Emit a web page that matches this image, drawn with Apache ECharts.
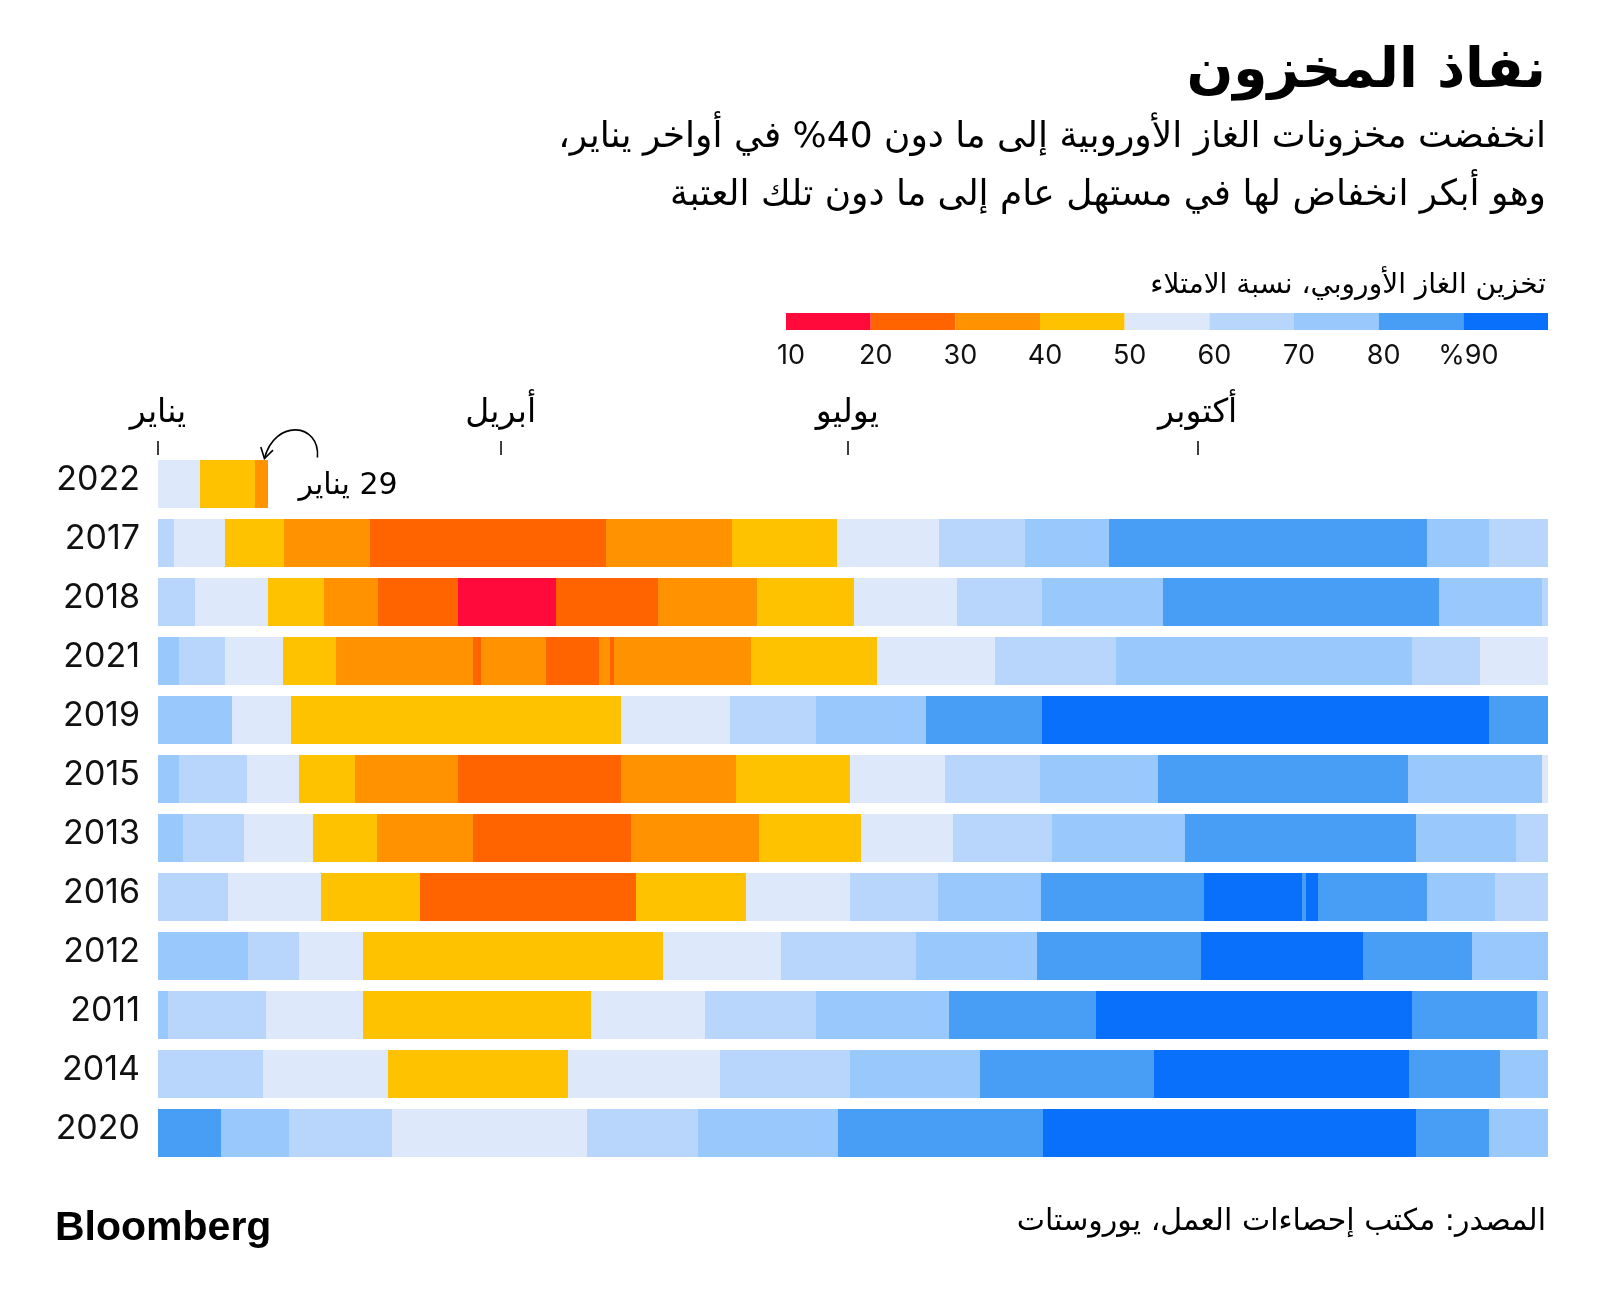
<!DOCTYPE html>
<html><head><meta charset="utf-8">
<script src="https://cdn.jsdelivr.net/npm/echarts@6/dist/echarts.min.js"></script>
<style>html,body{margin:0;padding:0;background:#fff}#c{width:1600px;height:1304px;direction:rtl}</style>
</head><body><div id="c" dir="rtl"></div><script>
// Rows (top to bottom)
const years = ['2022','2017','2018','2021','2019','2015','2013','2016','2012','2011','2014','2020'];
// Each year: [end day-of-year of segment, fill band lower bound %]
const y2022 = [[11,50],[25.5,40],[29,30]];
const y2017 = [[4.2,60],[17.5,50],[33,40],[55.8,30],[117.6,20],[150.7,30],[178.3,40],[205,50],[227.6,60],[249.7,70],[333.3,80],[349.6,70],[365,60]];
const y2018 = [[9.7,60],[28.8,50],[43.7,40],[57.7,30],[78.8,20],[104.6,10],[131.2,20],[157.4,30],[182.7,40],[209.7,50],[232.2,60],[263.8,70],[336.4,80],[363.4,70],[365,60]];
const y2021 = [[5.6,70],[17.6,60],[32.9,50],[46.8,40],[82.6,30],[84.7,20],[101.9,30],[115.9,20],[118.6,30],[119.8,20],[155.7,30],[188.7,40],[219.8,50],[251.5,60],[329.3,70],[347.2,60],[365,50]];
const y2019 = [[19.5,70],[34.8,50],[121.6,40],[150.2,50],[172.7,60],[201.7,70],[232.2,80],[349.6,90],[365,80]];
const y2015 = [[5.6,70],[23.3,60],[36.9,50],[51.7,40],[78.8,30],[121.6,20],[151.8,30],[181.7,40],[206.7,50],[231.7,60],[262.7,70],[328.2,80],[363.4,70],[365,50]];
const y2013 = [[6.6,70],[22.7,60],[40.7,50],[57.5,40],[82.7,30],[124.3,20],[157.7,30],[184.7,40],[208.8,50],[234.7,60],[269.7,70],[330.4,80],[356.5,70],[365,60]];
const y2016 = [[18.5,60],[42.9,50],[68.8,40],[125.5,20],[154.5,40],[181.7,50],[204.8,60],[231.8,70],[274.7,80],[300.4,90],[301.5,80],[304.5,90],[333.3,80],[351.1,70],[365,60]];
const y2012 = [[23.6,70],[36.9,60],[53.7,50],[132.6,40],[163.7,50],[199,60],[230.8,70],[273.8,80],[316.4,90],[345.1,80],[365,70]];
const y2011 = [[2.7,70],[28.4,60],[53.7,50],[113.6,40],[143.7,50],[172.7,60],[207.8,70],[246.4,80],[329.3,90],[362.2,80],[365,70]];
const y2014 = [[27.6,60],[60.5,50],[107.6,40],[147.6,50],[181.7,60],[215.8,70],[261.6,80],[328.5,90],[352.4,80],[365,70]];
const y2020 = [[16.6,80],[34.5,70],[61.5,60],[112.7,50],[141.9,60],[178.5,70],[232.4,80],[330.4,90],[349.5,80],[365,70]];
const rows = [y2022,y2017,y2018,y2021,y2019,y2015,y2013,y2016,y2012,y2011,y2014,y2020];

const bandLows = [10,20,30,40,50,60,70,80,90];
const bandColors = ['#ff0a3a','#ff6400','#ff9200','#ffc200','#dde9fb','#b8d6fc','#99c8fc','#489df5','#0870fb'];
const legendTicks = [10,20,30,40,50,60,70,80,90];
const legendTickLabels = ['10','20','30','40','50','60','70','80','%90'];
const monthDays = [0,90,181,273];
const monthNames = ['يناير','أبريل','يوليو','أكتوبر'];

const AR = 'DejaVu Sans';
const NUM = 'Inter';

function colorFor(v){ return bandColors[bandLows.indexOf(v)]; }

const segData = [];
rows.forEach((segs, r) => { let s = 0; segs.forEach(([e,b]) => { segData.push([s, e, r, b]); s = e; }); });
const legendData = bandLows.map(v => [v, v+10, 0, v]);

function renderSeg(params, api){
  const s = api.value(0), e = api.value(1), r = api.value(2);
  const p0 = api.coord([s, r]), p1 = api.coord([e, r]);
  const h = api.size([0,1])[1]*0.822;
  const x0 = Math.round(p0[0]), x1 = Math.round(p1[0]);
  return {type:'rect', shape:{x:x0, y:Math.round(p0[1]-h/2), width:x1-x0, height:Math.round(h)}, style:{fill: colorFor(api.value(3))}};
}
function renderLegend(params, api){
  const p0 = api.coord([api.value(0), 0]), p1 = api.coord([api.value(1), 0]);
  const h = api.size([0,1])[1];
  return {type:'rect', shape:{x:p0[0], y:p0[1]-h/2, width:p1[0]-p0[0], height:h}, style:{fill: colorFor(api.value(3))}};
}

const chart = echarts.init(document.getElementById('c'), null, {renderer:'canvas'});
chart.setOption({
  animation:false,
  backgroundColor:'#fff',
  title:[
    {text:'نفاذ المخزون', right:54, top:45, padding:0, textStyle:{fontFamily:AR, fontSize:55, fontWeight:'bold', color:'#000'}},
    {text:'انخفضت مخزونات الغاز الأوروبية إلى ما دون 40% في أواخر يناير،', right:54, top:120, padding:0, textStyle:{fontFamily:AR, fontSize:36, fontWeight:'normal', color:'#000'}},
    {text:'وهو أبكر انخفاض لها في مستهل عام إلى ما دون تلك العتبة', right:54, top:178, padding:0, textStyle:{fontFamily:AR, fontSize:36, fontWeight:'normal', color:'#000'}},
    {text:'تخزين الغاز الأوروبي، نسبة الامتلاء', right:54, top:272, padding:0, textStyle:{fontFamily:AR, fontSize:28, fontWeight:'normal', color:'#000'}},
    {text:'Bloomberg', left:50, top:1203, textStyle:{fontFamily:'Liberation Sans', fontSize:41, fontWeight:'bold', color:'#000'}},
    {text:'المصدر: مكتب إحصاءات العمل، يوروستات', right:54, top:1207, padding:0, textStyle:{fontFamily:AR, fontSize:30, fontWeight:'normal', color:'#000'}}
  ],
  grid:[
    {left:158, right:52, top:455, height:708},
    {left:786, right:52, top:313, height:17}
  ],
  xAxis:[
    {gridIndex:0, type:'value', min:0, max:365, position:'top',
     axisLine:{show:false}, splitLine:{show:false},
     axisTick:{show:true, customValues:monthDays, length:14, lineStyle:{color:'#000', width:1.5}},
     axisLabel:{customValues:monthDays, formatter:v => monthNames[monthDays.indexOf(v)], fontFamily:AR, fontSize:33, color:'#000', margin:25}},
    {gridIndex:1, type:'value', min:10, max:100, interval:10, position:'bottom',
     axisLine:{show:false}, axisTick:{show:false}, splitLine:{show:false},
     axisLabel:{formatter:v => { const i = legendTicks.indexOf(v); return i < 0 ? '' : legendTickLabels[i]; }, fontFamily:NUM, fontSize:27, color:'#111', margin:12, padding:[0,0,0,10]}}
  ],
  yAxis:[
    {gridIndex:0, type:'category', data:years, inverse:true,
     axisLine:{show:false}, axisTick:{show:false}, splitLine:{show:false},
     axisLabel:{fontFamily:NUM, fontSize:34, color:'#111', margin:18, verticalAlign:'bottom', lineHeight:10}},
    {gridIndex:1, type:'category', data:['l'], show:false}
  ],
  series:[
    {type:'custom', xAxisIndex:0, yAxisIndex:0, renderItem:renderSeg, data:segData, encode:{x:[0,1], y:2}, silent:true},
    {type:'custom', xAxisIndex:1, yAxisIndex:1, renderItem:renderLegend, data:legendData, encode:{x:[0,1], y:2}, silent:true}
  ]
});

// Annotation anchored to end of the 2022 bar (29 Jan)
const p = chart.convertToPixel({xAxisIndex:0, yAxisIndex:0}, [29, 0]);
const S = [p[0]+49, p[1]-27], C1 = [p[0]+52, p[1]-62], C2 = [p[0]+6, p[1]-66], E = [p[0]-4, p[1]-26];
const dx = E[0]-C2[0], dy = E[1]-C2[1], L = Math.hypot(dx,dy), ux = dx/L, uy = dy/L;
function wing(a){ const c=Math.cos(a), s=Math.sin(a); return [E[0]-12*(ux*c - uy*s), E[1]-12*(ux*s + uy*c)]; }
chart.setOption({graphic:[
  {type:'bezierCurve', shape:{x1:S[0], y1:S[1], cpx1:C1[0], cpy1:C1[1], cpx2:C2[0], cpy2:C2[1], x2:E[0], y2:E[1]}, style:{stroke:'#000', lineWidth:1.6, fill:null}},
  {type:'polyline', shape:{points:[wing(0.55), E, wing(-0.55)]}, style:{stroke:'#000', lineWidth:1.6, fill:null}},
  {type:'text', x:p[0]+30, y:p[1]+2, style:{text:'29 يناير', fontFamily:AR, fontSize:30, fill:'#000', textAlign:'left', textVerticalAlign:'middle'}}
]});
</script></body></html>
